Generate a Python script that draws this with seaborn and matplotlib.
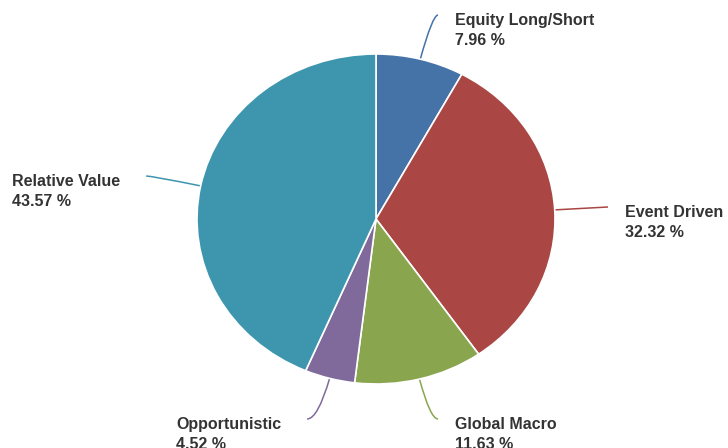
import numpy as np
import matplotlib
matplotlib.use("Agg")
import matplotlib.pyplot as plt
from matplotlib.path import Path
from matplotlib.patches import PathPatch
import seaborn as sns

# Strategy allocation (percent of portfolio), clockwise from 12 o'clock
strategies = ["Equity Long/Short", "Event Driven", "Global Macro",
              "Opportunistic", "Relative Value"]
shares = [7.96, 32.32, 11.63, 4.52, 43.57]
colors = ["#4572A7", "#AA4643", "#89A54E", "#80699B", "#3D96AE"]

sns.set_theme(style="white")
palette = sns.color_palette(colors)
plt.rcParams["font.family"] = ["Liberation Sans", "DejaVu Sans"]

W, H = 728, 448
fig = plt.figure(figsize=(W / 100, H / 100), dpi=100)
ax = fig.add_axes([0, 0, 1, 1])

# pie geometry in pixels (slightly wider than tall)
cx, cy, rx, ry = 376, 219, 179, 165


def px(x, y):
    """pixel position -> data position of the unit pie"""
    return (x - cx) / rx, (cy - y) / ry


ax.pie(shares, colors=palette, startangle=90, counterclock=False,
       radius=1.0, center=(0, 0),
       wedgeprops=dict(edgecolor="white", linewidth=1.2))
ax.set_aspect("auto")
x0, y0 = px(0, H)
x1, y1 = px(W, 0)
ax.set_xlim(x0, x1)
ax.set_ylim(y0, y1)
ax.axis("off")

# label text anchors (left x, first baseline) and the side of the pie
label_pos = {
    "Equity Long/Short": (455, 25, "right"),
    "Event Driven": (625, 217, "right"),
    "Global Macro": (455, 429, "right"),
    "Opportunistic": (176, 429, "left"),
    "Relative Value": (12, 186, "left"),
}

text_color = "#333333"
fs = 11.5
cum = np.cumsum([0] + shares[:-1])
for name, share, start, col in zip(strategies, shares, cum, palette):
    mid = np.deg2rad((start + share / 2) / 100 * 360)
    # point on the slice's outer edge (pixels)
    ex = cx + rx * np.sin(mid)
    ey = cy - ry * np.cos(mid)
    lx, ly, side = label_pos[name]
    t1 = ax.text(*px(lx, ly), name, fontsize=fs, fontweight="bold",
                 color=text_color, ha="left", va="baseline")
    t2 = ax.text(*px(lx, ly + 20), f"{share:.2f} %", fontsize=fs,
                 fontweight="bold", color=text_color, ha="left", va="baseline")
    # connector end next to the label
    if side == "right":
        endx = lx - 17
    else:
        fig.canvas.draw()
        bb = t1.get_window_extent(renderer=fig.canvas.get_renderer())
        endx = bb.x1 + 26
    endy = ly - 10
    # control point: radial line from the edge to the label's height
    dx, dy = rx * np.sin(mid), -ry * np.cos(mid)
    if abs(dy) > 1e-6:
        t = (endy - ey) / dy
        ctrlx = ex + t * dx
    else:
        ctrlx = endx
    lo, hi = sorted([ex, endx])
    ctrlx = np.clip(ctrlx, lo + 0.1 * (hi - lo), lo + 0.85 * (hi - lo)) \
        if side == "left" else np.clip(ctrlx, lo, hi)
    ctrly = endy if abs(dy) > 1e-6 else ey
    verts = [px(ex, ey), px(ctrlx, ctrly), px(endx, endy)]
    path = Path(verts, [Path.MOVETO, Path.CURVE3, Path.CURVE3])
    ax.add_patch(PathPatch(path, facecolor="none", edgecolor=col,
                           linewidth=1.1, zorder=0.5))

fig.savefig("out.png", dpi=100, facecolor="white")
